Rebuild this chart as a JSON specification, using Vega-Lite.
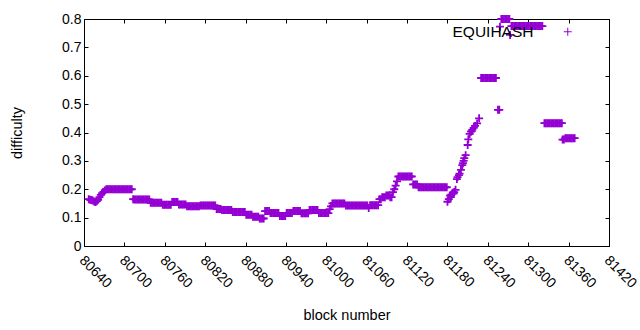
{
"$schema": "https://vega.github.io/schema/vega-lite/v6.json",
"width": 525, "height": 227,
"autosize": {"type": "none"},
"padding": {"left": 84, "top": 19, "right": 31, "bottom": 84},
"background": "white",
"config": {
 "view": {"stroke": "black", "strokeWidth": 1},
 "font": "Liberation Sans",
 "axis": {"grid": false, "domainColor": "black", "tickColor": "black", "labelColor": "black", "titleColor": "black", "labelFontSize": 14, "titleFontSize": 14.5, "titleFontWeight": "normal", "tickSize": -4, "labelFlush": false, "labelOverlap": false}
},
"datasets": {"main": [
{"b":80647,"d":0.165},{"b":80649,"d":0.163},{"b":80651,"d":0.162},{"b":80653,"d":0.16},{"b":80655,"d":0.157},{"b":80657,"d":0.155},{"b":80659,"d":0.158},{"b":80661,"d":0.163},{"b":80663,"d":0.172},{"b":80665,"d":0.18},{"b":80667,"d":0.186},{"b":80669,"d":0.191},{"b":80671,"d":0.196},
{"b":80673,"d":0.2},{"b":80675,"d":0.2},{"b":80677,"d":0.2},{"b":80679,"d":0.2},{"b":80681,"d":0.2},{"b":80683,"d":0.2},{"b":80685,"d":0.2},{"b":80687,"d":0.2},{"b":80689,"d":0.2},{"b":80691,"d":0.2},{"b":80693,"d":0.2},{"b":80695,"d":0.2},{"b":80697,"d":0.2},{"b":80699,"d":0.2},{"b":80701,"d":0.2},{"b":80703,"d":0.2},{"b":80705,"d":0.2},{"b":80707,"d":0.2},{"b":80709,"d":0.2},{"b":80711,"d":0.2},
{"b":80713,"d":0.165},{"b":80715,"d":0.164},{"b":80717,"d":0.164},{"b":80719,"d":0.164},{"b":80721,"d":0.164},{"b":80723,"d":0.164},{"b":80725,"d":0.164},{"b":80727,"d":0.164},{"b":80729,"d":0.164},{"b":80731,"d":0.164},{"b":80733,"d":0.164},{"b":80735,"d":0.164},{"b":80737,"d":0.164},
{"b":80739,"d":0.152},{"b":80741,"d":0.152},{"b":80743,"d":0.152},{"b":80745,"d":0.152},{"b":80747,"d":0.152},{"b":80749,"d":0.152},{"b":80751,"d":0.152},{"b":80753,"d":0.152},{"b":80755,"d":0.152},
{"b":80757,"d":0.145},{"b":80759,"d":0.145},{"b":80761,"d":0.145},{"b":80763,"d":0.145},{"b":80765,"d":0.145},{"b":80767,"d":0.145},{"b":80769,"d":0.145},
{"b":80771,"d":0.155},{"b":80773,"d":0.155},{"b":80775,"d":0.155},{"b":80777,"d":0.155},{"b":80779,"d":0.155},
{"b":80781,"d":0.146},{"b":80783,"d":0.146},{"b":80785,"d":0.146},{"b":80787,"d":0.146},{"b":80789,"d":0.146},{"b":80791,"d":0.146},
{"b":80793,"d":0.14},{"b":80795,"d":0.14},{"b":80797,"d":0.14},{"b":80799,"d":0.14},{"b":80801,"d":0.14},{"b":80803,"d":0.14},{"b":80805,"d":0.14},{"b":80807,"d":0.14},{"b":80809,"d":0.14},{"b":80811,"d":0.14},
{"b":80813,"d":0.143},{"b":80815,"d":0.143},{"b":80817,"d":0.143},{"b":80819,"d":0.143},{"b":80821,"d":0.143},{"b":80823,"d":0.143},{"b":80825,"d":0.143},{"b":80827,"d":0.143},{"b":80829,"d":0.143},{"b":80831,"d":0.143},{"b":80833,"d":0.143},{"b":80835,"d":0.143},
{"b":80837,"d":0.13},{"b":80839,"d":0.13},{"b":80841,"d":0.13},{"b":80843,"d":0.13},
{"b":80845,"d":0.127},{"b":80847,"d":0.127},{"b":80849,"d":0.127},{"b":80851,"d":0.127},{"b":80853,"d":0.127},{"b":80855,"d":0.127},{"b":80857,"d":0.127},{"b":80859,"d":0.127},
{"b":80861,"d":0.12},{"b":80863,"d":0.12},{"b":80865,"d":0.12},{"b":80867,"d":0.12},{"b":80869,"d":0.12},{"b":80871,"d":0.12},{"b":80873,"d":0.12},{"b":80875,"d":0.12},{"b":80877,"d":0.12},{"b":80879,"d":0.12},
{"b":80881,"d":0.11},{"b":80883,"d":0.11},{"b":80885,"d":0.11},{"b":80887,"d":0.11},{"b":80889,"d":0.11},
{"b":80891,"d":0.103},{"b":80893,"d":0.103},{"b":80895,"d":0.103},{"b":80897,"d":0.103},{"b":80899,"d":0.103},
{"b":80901,"d":0.097},{"b":80903,"d":0.097},{"b":80905,"d":0.097},{"b":80907,"d":0.097},
{"b":80909,"d":0.123},{"b":80911,"d":0.123},{"b":80913,"d":0.123},{"b":80915,"d":0.123},
{"b":80917,"d":0.116},{"b":80919,"d":0.116},{"b":80921,"d":0.116},{"b":80923,"d":0.116},{"b":80925,"d":0.116},{"b":80927,"d":0.116},{"b":80929,"d":0.116},
{"b":80931,"d":0.106},{"b":80933,"d":0.106},{"b":80935,"d":0.106},{"b":80937,"d":0.106},{"b":80939,"d":0.106},
{"b":80941,"d":0.116},{"b":80943,"d":0.116},{"b":80945,"d":0.116},{"b":80947,"d":0.116},{"b":80949,"d":0.116},
{"b":80951,"d":0.123},{"b":80953,"d":0.123},{"b":80955,"d":0.123},{"b":80957,"d":0.123},{"b":80959,"d":0.123},{"b":80961,"d":0.123},
{"b":80963,"d":0.115},{"b":80965,"d":0.115},{"b":80967,"d":0.115},{"b":80969,"d":0.115},{"b":80971,"d":0.115},{"b":80973,"d":0.115},
{"b":80975,"d":0.127},{"b":80977,"d":0.127},{"b":80979,"d":0.127},{"b":80981,"d":0.127},{"b":80983,"d":0.127},{"b":80985,"d":0.127},{"b":80987,"d":0.127},
{"b":80989,"d":0.116},{"b":80991,"d":0.116},{"b":80993,"d":0.116},{"b":80995,"d":0.116},{"b":80997,"d":0.116},{"b":80999,"d":0.116},{"b":81001,"d":0.116},{"b":81003,"d":0.116},
{"b":81005,"d":0.13},{"b":81007,"d":0.14},
{"b":81009,"d":0.15},{"b":81011,"d":0.15},{"b":81013,"d":0.15},{"b":81015,"d":0.15},{"b":81017,"d":0.15},{"b":81019,"d":0.15},{"b":81021,"d":0.15},{"b":81023,"d":0.15},{"b":81025,"d":0.15},{"b":81027,"d":0.15},
{"b":81029,"d":0.143},{"b":81031,"d":0.143},{"b":81033,"d":0.143},{"b":81035,"d":0.143},{"b":81037,"d":0.143},{"b":81039,"d":0.143},{"b":81041,"d":0.143},{"b":81043,"d":0.143},{"b":81045,"d":0.143},{"b":81047,"d":0.143},{"b":81049,"d":0.143},{"b":81051,"d":0.143},{"b":81053,"d":0.143},{"b":81055,"d":0.143},{"b":81057,"d":0.143},{"b":81059,"d":0.143},{"b":81061,"d":0.143},
{"b":81063,"d":0.134},
{"b":81065,"d":0.144},{"b":81067,"d":0.144},{"b":81069,"d":0.144},{"b":81071,"d":0.144},{"b":81073,"d":0.144},{"b":81075,"d":0.144},{"b":81077,"d":0.144},
{"b":81079,"d":0.165},{"b":81081,"d":0.165},
{"b":81083,"d":0.172},{"b":81085,"d":0.172},{"b":81087,"d":0.172},{"b":81089,"d":0.178},{"b":81091,"d":0.178},{"b":81093,"d":0.178},{"b":81095,"d":0.172},{"b":81097,"d":0.172},
{"b":81099,"d":0.19},{"b":81101,"d":0.2},{"b":81103,"d":0.213},{"b":81105,"d":0.228},
{"b":81107,"d":0.245},{"b":81109,"d":0.245},{"b":81111,"d":0.245},{"b":81113,"d":0.245},{"b":81115,"d":0.245},{"b":81117,"d":0.245},{"b":81119,"d":0.245},{"b":81121,"d":0.245},{"b":81123,"d":0.245},{"b":81125,"d":0.245},{"b":81127,"d":0.245},
{"b":81129,"d":0.217},{"b":81131,"d":0.217},{"b":81133,"d":0.217},{"b":81135,"d":0.217},
{"b":81137,"d":0.207},{"b":81139,"d":0.207},{"b":81141,"d":0.207},{"b":81143,"d":0.207},{"b":81145,"d":0.207},{"b":81147,"d":0.207},{"b":81149,"d":0.207},{"b":81151,"d":0.207},{"b":81153,"d":0.207},{"b":81155,"d":0.207},{"b":81157,"d":0.207},{"b":81159,"d":0.207},{"b":81161,"d":0.207},{"b":81163,"d":0.207},{"b":81165,"d":0.207},{"b":81167,"d":0.207},{"b":81169,"d":0.207},{"b":81171,"d":0.207},{"b":81173,"d":0.207},{"b":81175,"d":0.207},{"b":81177,"d":0.207},{"b":81179,"d":0.207},
{"b":81180,"d":0.156},{"b":81182,"d":0.165},{"b":81184,"d":0.178},{"b":81185,"d":0.172},{"b":81186,"d":0.182},{"b":81188,"d":0.188},{"b":81189,"d":0.185},{"b":81190,"d":0.19},{"b":81192,"d":0.198},{"b":81194,"d":0.236},{"b":81195,"d":0.243},{"b":81197,"d":0.25},{"b":81198,"d":0.255},{"b":81200,"d":0.268},{"b":81202,"d":0.285},{"b":81203,"d":0.292},{"b":81204,"d":0.3},{"b":81205,"d":0.31},{"b":81207,"d":0.32},{"b":81210,"d":0.356},{"b":81211,"d":0.376},{"b":81213,"d":0.395},{"b":81215,"d":0.403},{"b":81216,"d":0.405},{"b":81217,"d":0.41},{"b":81219,"d":0.416},{"b":81221,"d":0.423},{"b":81224,"d":0.432},{"b":81227,"d":0.45},
{"b":81230,"d":0.592},{"b":81232,"d":0.592},{"b":81234,"d":0.592},{"b":81236,"d":0.592},{"b":81238,"d":0.592},{"b":81240,"d":0.592},{"b":81242,"d":0.592},{"b":81244,"d":0.592},{"b":81246,"d":0.592},{"b":81248,"d":0.592},{"b":81250,"d":0.592},{"b":81252,"d":0.592},
{"b":81255,"d":0.48},{"b":81257,"d":0.48},{"b":81258,"d":0.773},
{"b":81260,"d":0.8},{"b":81262,"d":0.8},{"b":81264,"d":0.8},{"b":81266,"d":0.8},{"b":81268,"d":0.8},{"b":81270,"d":0.8},{"b":81272,"d":0.8},
{"b":81273,"d":0.744},
{"b":81275,"d":0.775},{"b":81277,"d":0.775},{"b":81279,"d":0.775},{"b":81281,"d":0.775},{"b":81283,"d":0.775},{"b":81285,"d":0.775},{"b":81287,"d":0.775},{"b":81289,"d":0.775},{"b":81291,"d":0.775},{"b":81293,"d":0.775},{"b":81295,"d":0.775},{"b":81297,"d":0.775},{"b":81299,"d":0.775},{"b":81301,"d":0.775},{"b":81303,"d":0.775},{"b":81305,"d":0.775},{"b":81307,"d":0.775},{"b":81309,"d":0.775},{"b":81311,"d":0.775},{"b":81313,"d":0.775},{"b":81315,"d":0.775},{"b":81317,"d":0.775},{"b":81319,"d":0.775},{"b":81321,"d":0.775},
{"b":81324,"d":0.433},{"b":81326,"d":0.433},{"b":81328,"d":0.433},{"b":81330,"d":0.433},{"b":81332,"d":0.433},{"b":81334,"d":0.433},{"b":81336,"d":0.433},{"b":81338,"d":0.433},{"b":81340,"d":0.433},{"b":81342,"d":0.433},{"b":81344,"d":0.433},{"b":81346,"d":0.433},{"b":81348,"d":0.433},{"b":81350,"d":0.433},
{"b":81351,"d":0.375},{"b":81353,"d":0.375},
{"b":81355,"d":0.38},{"b":81357,"d":0.38},{"b":81359,"d":0.38},{"b":81361,"d":0.38},{"b":81363,"d":0.38},{"b":81365,"d":0.38},{"b":81367,"d":0.38},{"b":81369,"d":0.38}
]},
"data": {"name": "main"},
"layer": [
 {
  "mark": {"type": "point", "shape": "M-1,0H1M0,-1V1", "filled": false, "size": 64, "strokeWidth": 1.8, "opacity": 1},
  "encoding": {
   "x": {"field": "b", "type": "quantitative", "title": "block number",
     "scale": {"domain": [80640, 81420], "nice": false, "zero": false},
     "axis": {"orient": "bottom", "values": [80640,80700,80760,80820,80880,80940,81000,81060,81120,81180,81240,81300,81360,81420], "format": "d", "labelAngle": 45, "labelAlign": "left", "labelBaseline": "middle", "labelPadding": 16, "labelOffset": -3, "titlePadding": 18}},
   "y": {"field": "d", "type": "quantitative", "title": "difficulty",
     "scale": {"domain": [0, 0.8], "nice": false},
     "axis": {"orient": "left", "values": [0,0.1,0.2,0.3,0.4,0.5,0.6,0.7,0.8], "format": ".1~f", "labelPadding": 7, "titlePadding": 37}},
   "color": {"datum": "EQUIHASH", "type": "nominal", "scale": {"range": ["#9400d3"]},
     "legend": {"orient": "none", "legendX": 476, "legendY": 5, "title": null, "padding": 0, "labelAlign": "right", "labelOffset": -42, "labelFontSize": 15.5, "labelColor": "black", "symbolType": "M-1,0H1M0,-1V1", "symbolSize": 64, "symbolStrokeWidth": 1, "labelBaseline": "middle"}}
  }
 },
 {
  "mark": {"type": "point", "opacity": 0},
  "encoding": {
   "x": {"field": "b", "type": "quantitative", "scale": {"domain": [80640, 81420], "nice": false, "zero": false},
     "axis": {"orient": "top", "values": [80640,80700,80760,80820,80880,80940,81000,81060,81120,81180,81240,81300,81360,81420], "labels": false, "title": null}},
   "y": {"field": "d", "type": "quantitative", "scale": {"domain": [0, 0.8], "nice": false},
     "axis": {"orient": "right", "values": [0,0.1,0.2,0.3,0.4,0.5,0.6,0.7,0.8], "labels": false, "title": null}}
  }
 }
],
"resolve": {"axis": {"x": "independent", "y": "independent"}}
}
